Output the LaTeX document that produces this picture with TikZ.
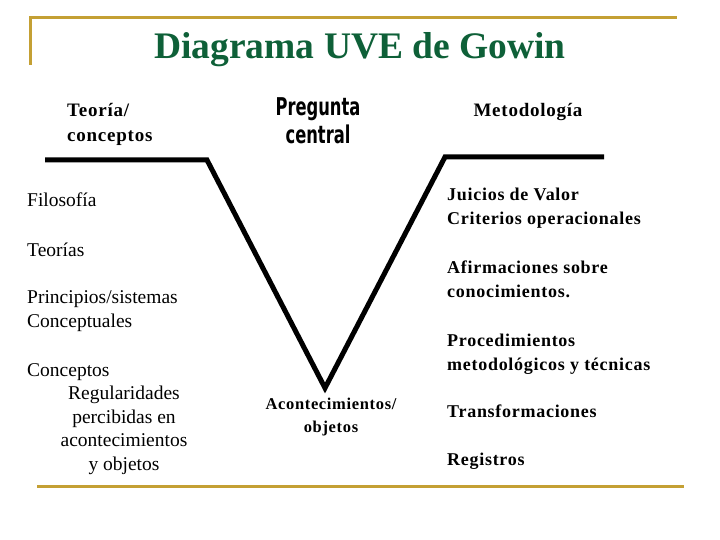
\documentclass[tikz,border=0pt]{standalone}
\usepackage{fontspec}
\setmainfont{Liberation Serif}
\newfontfamily\spacedfont{Liberation Serif}[LetterSpace=4]
\newfontfamily\condfont{DejaVu Sans Condensed}[FakeStretch=0.74]
\definecolor{titlegreen}{RGB}{14,96,56}
\definecolor{rulegold}{RGB}{196,160,52}
\tikzset{
  txt/.style={inner sep=0pt, anchor=base west, align=left, font=\fontsize{19.5}{23.5}\selectfont},
  btxt/.style={inner sep=0pt, anchor=base west, align=left, font=\fontsize{18}{24}\selectfont\spacedfont\bfseries},
  goldrule/.style={draw=rulegold, line width=3pt},
  vline/.style={draw=black, line width=5pt}
}
\begin{document}
\begin{tikzpicture}[x=1pt,y=-1pt]
  \useasboundingbox (0,0) rectangle (720,540);

  % Frame rules
  \coordinate (fa) at (30,65);
  \coordinate (fb) at (30,18);
  \coordinate (fc) at (677,18);
  \coordinate (fd) at (37,486);
  \coordinate (fe) at (684,486);
  \draw[goldrule] (fa) -- (fb) -- (fc);
  \draw[goldrule] (fd) -- (fe);

  % Title
  \node[inner sep=0pt, anchor=base, text=titlegreen, font=\fontsize{37.5}{40}\selectfont\bfseries] (title) at (360,59) {Diagrama UVE de Gowin};

  % The V
  \coordinate (l1) at (45,160);
  \coordinate (l2) at (207,160);
  \coordinate (vb) at (325,388);
  \coordinate (r1) at (445,157);
  \coordinate (r2) at (604,157);
  \draw[vline] (l1) -- (l2) -- (vb) -- (r1) -- (r2);

  % Headings (base = last line)
  \node[btxt, font=\fontsize{19}{25}\selectfont\spacedfont\bfseries] (teoria) at (67,142) {Teoría/\\conceptos};
  \node[inner sep=0pt, anchor=base, align=center, font=\fontsize{24.5}{28}\selectfont\condfont\bfseries] (pregunta) at (318,144) {Pregunta\\central};
  \node[inner sep=0pt, anchor=base, font=\fontsize{19}{24}\selectfont\spacedfont\bfseries] (metodo) at (528,117) {Metodología};

  % Left side
  \node[txt] (filosofia) at (27,207) {Filosofía};
  \node[txt] (teorias) at (27,256) {Teorías};
  \node[txt] (principios) at (27,327) {Principios/sistemas\\Conceptuales};
  \node[txt] (conceptos) at (27,376) {Conceptos};
  \node[txt, anchor=base, align=center] (regular) at (124,470) {Regularidades\\percibidas en\\acontecimientos\\y objetos};

  % Bottom of the V
  \node[inner sep=0pt, anchor=base, align=center, font=\fontsize{16.5}{23}\selectfont\spacedfont\bfseries] (aconte) at (331,432) {Acontecimientos/\\objetos};

  % Right side
  \node[btxt] (juicios) at (447,225) {Juicios de Valor\\Criterios operacionales};
  \node[btxt] (afirma) at (447,297) {Afirmaciones sobre\\conocimientos.};
  \node[btxt] (proced) at (447,370) {Procedimientos\\metodológicos y técnicas};
  \node[btxt] (transf) at (447,417) {Transformaciones};
  \node[btxt] (registros) at (447,465) {Registros};
\end{tikzpicture}
\end{document}
